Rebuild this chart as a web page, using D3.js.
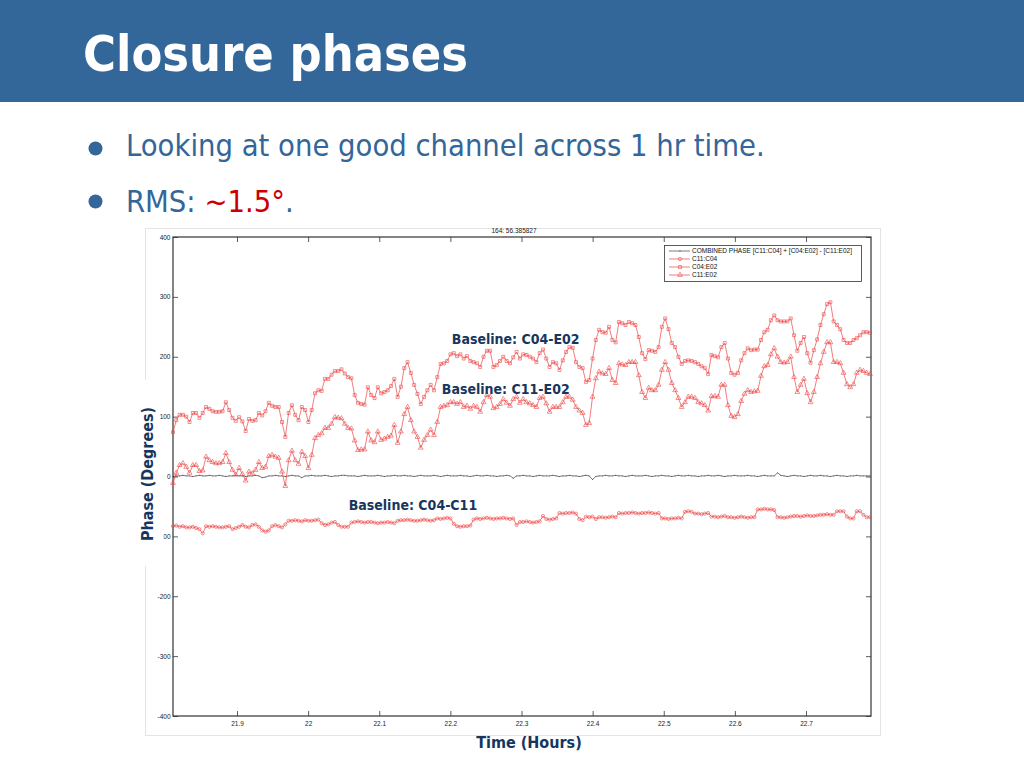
<!DOCTYPE html>
<html>
<head>
<meta charset="utf-8">
<script src="https://cdn.jsdelivr.net/npm/d3@7"></script>
<style>
  body { margin: 0; background: #fff; }
  svg { display: block; }
  .cond { font-family: 'DejaVu Sans Condensed', 'DejaVu Sans', sans-serif; font-stretch: condensed; }
  .small { font-family: 'Liberation Sans', Arial, sans-serif; }
</style>
</head>
<body>
<div id="app"></div>
<script>
const WIDTH = 1024, HEIGHT = 768;

// time span of the samples (hours)
const startHour = 21.81;
const endHour = 22.79;

const xTicks = [21.9, 22, 22.1, 22.2, 22.3, 22.4, 22.5, 22.6, 22.7];
const yTicks = [-400, -300, -200, -100, 0, 100, 200, 300, 400];

// COMBINED PHASE [C11:C04] + [C04:E02] - [C11:E02]
const combined = [
  0,1,1,2,1,1,0,1,2,1, 1,2,1,1,2,1,0,1,1,2, 1,1,0,1,1,2,1,-2,-1,1,
  1,2,1,1,0,1,2,1,1,-2, 1,1,2,1,1,1,2,1,0,1, 1,2,2,1,1,1,0,1,2,1,
  1,1,2,1,0,1,1,2,1,1, 2,1,1,0,1,2,1,1,1,2, 1,0,1,2,1,1,1,2,1,1,
  0,1,2,1,1,2,1,1,0,1, 1,2,1,-3,1,1,2,1,1,0, 1,2,1,1,1,2,1,0,1,1,
  2,1,1,0,1,2,1,-5,0,1, 1,2,1,1,2,1,1,0,1,2, 1,1,1,2,1,0,1,1,2,1,
  1,0,1,2,1,1,2,1,1,0, 1,1,2,1,1,2,1,0,1,1, 2,1,1,1,2,1,1,0,1,2,
  1,1,1,6,2,1,0,1,2,1, 1,0,1,2,1,1,2,1,1,0, 1,2,1,1,0,1,1,2,1,1,
  1,1
];

// C11:C04 (circles)
const c11c04 = [
  -83,-82,-84,-83,-85,-85,-84,-86,-88,-95, -83,-84,-83,-84,-85,-85,-84,-83,-88,-86,
  -84,-81,-84,-85,-81,-80,-84,-90,-92,-90, -83,-81,-83,-85,-80,-74,-74,-73,-74,-75,
  -73,-74,-74,-73,-72,-78,-81,-80,-77,-76, -81,-84,-84,-84,-77,-76,-75,-76,-77,-76,
  -76,-77,-78,-77,-77,-76,-77,-78,-74,-73, -73,-72,-73,-74,-74,-73,-72,-73,-74,-73,
  -70,-71,-70,-69,-70,-79,-83,-84,-83,-83, -82,-72,-70,-71,-70,-69,-70,-71,-70,-70,
  -69,-70,-71,-70,-81,-76,-76,-75,-76,-77, -76,-75,-66,-71,-72,-71,-70,-61,-62,-61,
  -61,-60,-62,-71,-73,-67,-68,-67,-71,-68, -68,-69,-68,-67,-68,-61,-62,-61,-61,-60,
  -61,-62,-61,-61,-60,-61,-62,-61,-70,-70, -71,-70,-70,-69,-70,-59,-58,-59,-62,-62,
  -63,-62,-61,-67,-67,-68,-67,-66,-68,-68, -69,-68,-67,-68,-69,-68,-68,-55,-55,-54,
  -55,-55,-56,-68,-68,-69,-68,-67,-66,-66, -67,-66,-65,-66,-66,-65,-64,-64,-63,-64,
  -64,-58,-58,-58,-67,-70,-70,-58,-58,-64, -68,-68
];

// C04:E02 (squares)
const c04e02 = [
  74,94,103,103,100,91,106,106,98,106, 116,113,109,108,108,109,124,111,98,93,
  99,92,76,96,93,94,106,102,109,123, 118,116,116,91,66,106,119,103,94,116,
  111,91,111,139,144,143,163,163,170,176, 176,179,172,166,164,136,123,121,120,149,
  136,131,149,139,141,144,151,163,133,150, 181,191,173,153,138,121,133,144,153,144,
  166,188,189,193,204,206,201,204,197,201, 193,191,189,183,200,210,210,183,186,193,
  200,193,189,199,208,197,204,203,200,197, 191,206,212,197,183,191,189,178,194,208,
  216,215,191,183,181,158,161,197,228,245, 241,240,250,228,224,258,256,253,258,256,
  253,233,206,196,211,210,208,216,250,264, 246,223,216,200,188,193,194,193,191,188,
  184,181,171,203,201,199,216,223,197,173, 170,173,194,206,214,211,212,212,228,241,
  245,261,269,261,259,259,259,264,236,210, 223,233,206,190,211,229,253,271,288,291,
  259,253,246,228,223,223,228,231,236,241, 241,240
];

// C11:E02 (triangles)
const c11e02 = [
  -11,6,19,22,16,6,19,19,9,10, 33,27,24,22,22,24,39,24,11,3,
  14,4,-7,8,5,11,24,14,16,34, 36,33,31,8,-16,27,43,27,21,41,
  34,14,36,64,69,72,81,81,88,99, 98,97,88,81,80,60,44,45,45,75,
  60,57,75,61,63,66,68,86,56,75, 104,116,94,75,66,48,61,69,78,69,
  91,116,118,119,124,124,121,124,116,118, 113,118,116,108,124,136,133,114,116,121,
  129,123,118,129,133,123,129,124,122,119, 116,131,133,122,108,116,116,116,124,133,
  133,128,116,110,106,86,89,133,164,175, 172,171,181,161,156,189,187,186,191,191,
  191,169,141,131,148,144,144,153,178,191, 178,156,144,131,116,124,133,133,131,124,
  122,119,110,134,134,133,153,153,119,101, 99,104,126,138,144,141,142,143,168,184,
  186,204,214,200,191,190,191,200,166,141, 153,163,139,124,141,166,189,208,224,224,
  191,191,189,173,154,149,154,173,178,176, 173,171
];

const legendLabels = [
  'COMBINED PHASE [C11:C04] + [C04:E02] - [C11:E02]',
  'C11:C04', 'C04:E02', 'C11:E02'
];

const annotations = [
  { text: 'Baseline: C04-E02', hour: 22.202, value: 222 },
  { text: 'Baseline: C11-E02', hour: 22.188, value: 137 },
  { text: 'Baseline: C04-C11', hour: 22.057, value: -56 }
];

const BLUE = '#336699';
const NAVY = '#17365d';
const RED = '#ee4444';

const svg = d3.select('#app')
  .append('svg')
    .attr('width', WIDTH)
    .attr('height', HEIGHT);

// slide header
svg.append('rect')
  .attr('x', 0).attr('y', 0)
  .attr('width', WIDTH).attr('height', 102)
  .attr('fill', BLUE);

svg.append('text')
  .attr('class', 'cond')
  .attr('x', 83).attr('y', 71)
  .attr('fill', '#fff')
  .style('font-size', '50px')
  .style('font-weight', 'bold')
  .text('Closure phases');

// bullets
[148.5, 201.5].forEach(cy =>
  svg.append('circle')
    .attr('cx', 95.5).attr('cy', cy).attr('r', 7)
    .attr('fill', BLUE));

svg.append('text')
  .attr('class', 'cond')
  .attr('x', 126).attr('y', 156)
  .attr('fill', BLUE)
  .style('font-size', '30.6px')
  .text('Looking at one good channel across 1 hr time.');

const rms = svg.append('text')
  .attr('class', 'cond')
  .attr('x', 126).attr('y', 212)
  .attr('fill', BLUE)
  .style('font-size', '30.6px');
rms.append('tspan').text('RMS: ');
rms.append('tspan').attr('fill', '#cc0000').text('~1.5°');
rms.append('tspan').text('.');

// pasted figure frame
svg.append('rect')
  .attr('x', 145.5).attr('y', 228.5)
  .attr('width', 735).attr('height', 507)
  .attr('fill', '#fff')
  .attr('stroke', '#e4e4e4');

// scales
const x = d3.scaleLinear()
  .domain([21.81, 22.7914])
  .range([173, 871]);

const y = d3.scaleLinear()
  .domain([-400, 400])
  .range([716, 237]);

const times = c04e02.map((_, i) => startHour + i * (endHour - startHour) / (c04e02.length - 1));

// axes with inward ticks on all four sides
const fmt = d => String(d);
const styleAxis = g => {
  g.select('.domain').remove();
  g.selectAll('line').attr('stroke', '#333').attr('stroke-width', 0.8);
  g.selectAll('text')
    .attr('class', 'small')
    .attr('fill', '#222')
    .style('font-size', '6.5px');
};

svg.append('g')
  .attr('transform', 'translate(0,716)')
  .call(d3.axisBottom(x).tickValues(xTicks).tickFormat(fmt).tickSize(-5).tickPadding(5))
  .call(styleAxis);

svg.append('g')
  .attr('transform', 'translate(0,237)')
  .call(d3.axisTop(x).tickValues(xTicks).tickFormat('').tickSize(-5))
  .call(styleAxis);

svg.append('g')
  .attr('transform', 'translate(173,0)')
  .call(d3.axisLeft(y).tickValues(yTicks).tickFormat(fmt).tickSize(-5).tickPadding(2.5))
  .call(styleAxis);

svg.append('g')
  .attr('transform', 'translate(871,0)')
  .call(d3.axisRight(y).tickValues(yTicks).tickFormat('').tickSize(-5))
  .call(styleAxis);

svg.append('rect')
  .attr('x', 173).attr('y', 237)
  .attr('width', 698).attr('height', 479)
  .attr('fill', 'none')
  .attr('stroke', '#333')
  .attr('stroke-width', 1.2);

svg.append('text')
  .attr('class', 'small')
  .attr('x', 514).attr('y', 233)
  .attr('text-anchor', 'middle')
  .attr('fill', '#222')
  .style('font-size', '6.5px')
  .text('164: 56.385827');

// series
const series = [
  { values: combined, color: '#222', width: 0.6, symbol: null },
  { values: c11c04, color: RED, width: 0.7, symbol: d3.symbolCircle, size: 8 },
  { values: c04e02, color: RED, width: 0.7, symbol: d3.symbolSquare, size: 9 },
  { values: c11e02, color: RED, width: 0.7, symbol: d3.symbolTriangle, size: 10 }
];

const line = d3.line()
  .x(d => x(d[0]))
  .y(d => y(d[1]));

const plot = svg.append('g');

series.forEach(s => {
  const pts = s.values.map((v, i) => [times[i], v]);
  plot.append('path')
    .datum(pts)
    .attr('d', line)
    .attr('fill', 'none')
    .attr('stroke', s.color)
    .attr('stroke-width', s.width);

  if (s.symbol) {
    plot.selectAll(null)
      .data(pts)
      .enter()
      .append('path')
        .attr('transform', d => `translate(${x(d[0])},${y(d[1])})`)
        .attr('d', d3.symbol(s.symbol, s.size))
        .attr('fill', 'none')
        .attr('stroke', s.color)
        .attr('stroke-width', 0.6);
  } else {
    plot.selectAll(null)
      .data(pts)
      .enter()
      .append('circle')
        .attr('cx', d => x(d[0]))
        .attr('cy', d => y(d[1]))
        .attr('r', 0.45)
        .attr('fill', s.color);
  }
});

// legend
const legend = svg.append('g');
legend.append('rect')
  .attr('x', 664.5).attr('y', 245.5)
  .attr('width', 197).attr('height', 36)
  .attr('fill', '#fff')
  .attr('stroke', '#333')
  .attr('stroke-width', 0.8);

legendLabels.forEach((label, i) => {
  const s = series[i];
  const ly = 251 + i * 8;
  legend.append('line')
    .attr('x1', 669).attr('x2', 690)
    .attr('y1', ly).attr('y2', ly)
    .attr('stroke', s.color)
    .attr('stroke-width', s.width);
  if (s.symbol) {
    legend.append('path')
      .attr('transform', `translate(680,${ly})`)
      .attr('d', d3.symbol(s.symbol, s.size))
      .attr('fill', 'none')
      .attr('stroke', s.color)
      .attr('stroke-width', 0.6);
  } else {
    legend.append('circle')
      .attr('cx', 680).attr('cy', ly).attr('r', 0.6)
      .attr('fill', s.color);
  }
  legend.append('text')
    .attr('class', 'small')
    .attr('x', 692).attr('y', ly + 2.3)
    .attr('fill', '#111')
    .style('font-size', '6.5px')
    .text(label);
});

// baseline annotations
annotations.forEach(a =>
  svg.append('text')
    .attr('class', 'cond')
    .attr('x', x(a.hour)).attr('y', y(a.value))
    .attr('fill', NAVY)
    .style('font-size', '14px')
    .style('font-weight', 'bold')
    .text(a.text));

// axis titles (the y title sits on a white patch pasted over the figure)
svg.append('path')
  .attr('d', 'M133,380 H159.5 V478 H163.5 V566 H133 Z')
  .attr('fill', '#fff');

svg.append('text')
  .attr('class', 'cond')
  .attr('transform', 'translate(153,474) rotate(-90)')
  .attr('text-anchor', 'middle')
  .attr('fill', NAVY)
  .style('font-size', '16px')
  .style('font-weight', 'bold')
  .text('Phase (Degrees)');

svg.append('text')
  .attr('class', 'cond')
  .attr('x', 529).attr('y', 748)
  .attr('text-anchor', 'middle')
  .attr('fill', NAVY)
  .style('font-size', '16px')
  .style('font-weight', 'bold')
  .text('Time (Hours)');
</script>
</body>
</html>
